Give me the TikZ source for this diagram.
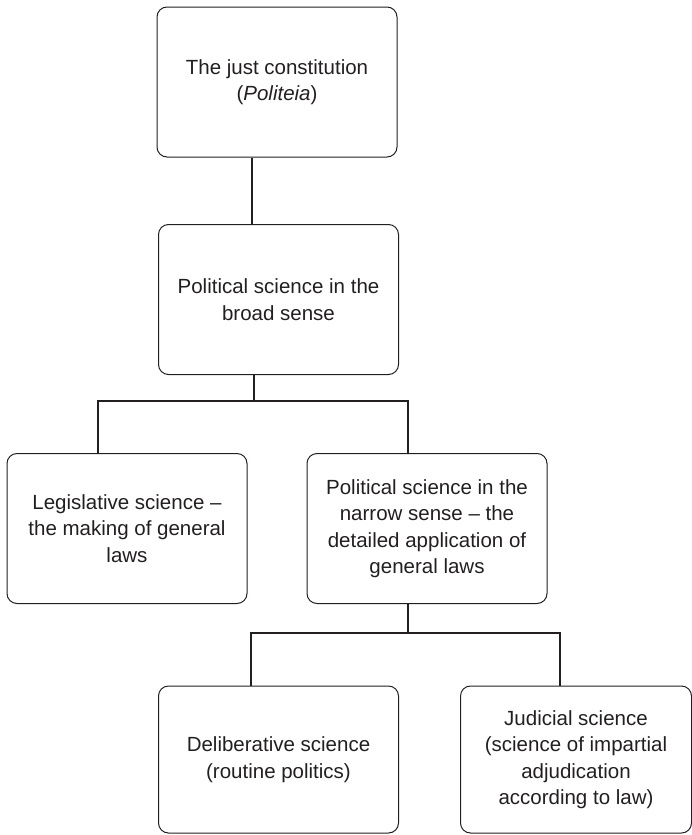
\documentclass[tikz,border=0pt]{standalone}
\usepackage{fontspec}
\setmainfont{Liberation Sans}
\definecolor{ink}{HTML}{231F20}
\begin{document}
\begin{tikzpicture}[x=1pt,y=-1pt,
  box/.style={draw=ink, line width=1pt, rounded corners=10pt,
    minimum width=240pt, minimum height=150pt, inner sep=0pt,
    align=center, text=ink, font=\fontsize{20.5}{26.5}\selectfont},
  conn/.style={draw=ink, line width=1.9pt}]
\useasboundingbox (0,0) rectangle (692,835);

% boxes
\node[box] (b1) at (277,82) {The just constitution\\(\textit{Politeia})};
\node[box] (b2) at (278.5,299.5) {Political science in the\\broad sense};
\node[box] (b3) at (127,528.5) {Legislative science –\\the making of general\\laws};
\node[box] (b4) at (427,528.5) {Political science in the\\narrow sense – the\\detailed application of\\general laws};
\node[box, minimum height=147pt] (b5) at (278.5,759.5) {Deliberative science\\(routine politics)};
\node[box, minimum width=231pt, minimum height=147pt] (b6) at (576,759.5) {Judicial science\\(science of impartial\\adjudication\\according to law)};

% fork points
\coordinate (top1) at (252,190);
\coordinate (t1) at (254,401);
\coordinate (l1) at (98,401);
\coordinate (r1) at (408,401);
\coordinate (t2) at (408,633);
\coordinate (l2) at (251,633);
\coordinate (r2) at (560,633);

% connectors
\draw[conn] (b1.south -| top1) -- (b2.north -| top1);
\draw[conn] (b2.south -| t1) -- (t1);
\draw[conn] (b3.north -| l1) -- (l1) -- (r1) -- (b4.north -| r1);
\draw[conn] (b4.south -| t2) -- (t2);
\draw[conn] (b5.north -| l2) -- (l2) -- (r2) -- (b6.north -| r2);
\end{tikzpicture}
\end{document}
